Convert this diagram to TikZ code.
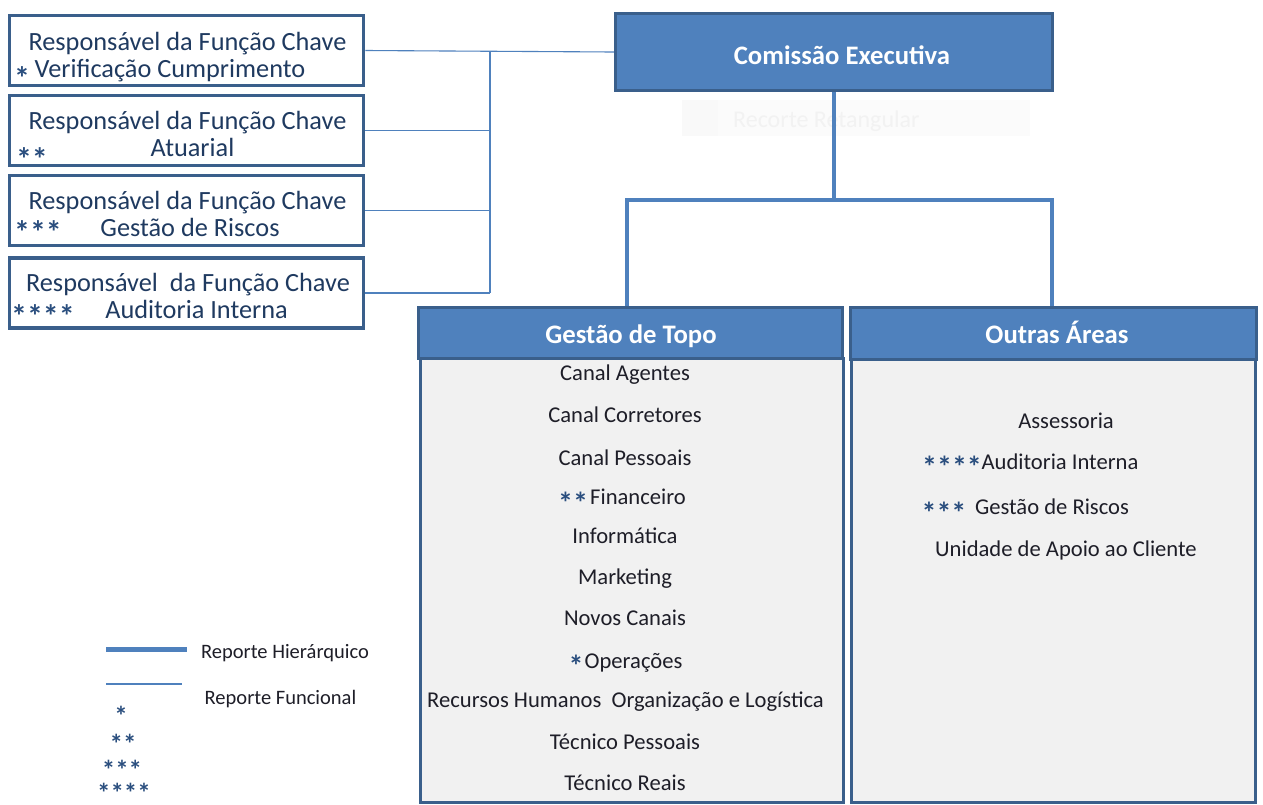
\documentclass[tikz,border=0pt]{standalone}
\usepackage{fontspec}
\setmainfont{Carlito}
\definecolor{mblue}{HTML}{4F81BD}
\definecolor{dblue}{HTML}{3A5F8B}
\definecolor{tnavy}{HTML}{1F3A60}
\definecolor{tdark}{HTML}{1E1E28}
\definecolor{sblue}{HTML}{2A4E7E}
\definecolor{bodyfill}{HTML}{F1F1F1}
\begin{document}
\begin{tikzpicture}[x=1pt,y=-1pt,
  keybox/.style={draw=dblue,line width=3.5pt,fill=white,minimum width=354pt,minimum height=70pt,inner sep=0pt},
  headbox/.style={draw=dblue,line width=3pt,fill=mblue,inner sep=0pt},
  bodybox/.style={draw=dblue,line width=3pt,fill=bodyfill,inner sep=0pt},
  hier/.style={draw=mblue,line width=4pt},
  func/.style={draw=mblue,line width=1.1pt},
  ktxt/.style={text=tnavy,font=\fontsize{26.3}{30}\selectfont,inner sep=0pt,text height=18pt,text depth=0pt},
  itxt/.style={text=tdark,font=\fontsize{22.6}{26}\selectfont,inner sep=0pt,text height=15.5pt,text depth=0pt},
  htxt/.style={text=white,font=\bfseries\fontsize{26.7}{30}\selectfont,inner sep=0pt,text height=19pt,text depth=0pt},
  ltxt/.style={text=tdark,font=\fontsize{20.5}{24}\selectfont,inner sep=0pt,text height=15.5pt,text depth=0pt},
  stars/.style={text=sblue,font=\bfseries\fontsize{32}{36}\selectfont,inner sep=0pt,text height=7pt,text depth=0pt,anchor=base,yshift=-16.5pt},
  lstars/.style={text=sblue,font=\bfseries\fontsize{27}{30}\selectfont,inner sep=0pt,text height=7pt,text depth=0pt,anchor=base,yshift=-14.5pt},
  istars/.style={text=sblue,font=\bfseries\fontsize{30}{34}\selectfont,inner sep=0pt,text height=7pt,text depth=0pt,anchor=base,yshift=-17pt}]
\useasboundingbox (0,0) rectangle (1263,804);
\fill[white] (0,0) rectangle (1263,804);

% faint screen artefact
\node[fill=black!1.5,minimum width=348pt,minimum height=36pt,inner sep=0pt] (rr) at (856,118) {};
\node[fill=black!2.5,minimum width=36pt,minimum height=36pt,inner sep=0pt] (rrs) at (700,118) {};
\node[text=black!5,font=\fontsize{24}{28}\selectfont,inner sep=0pt,anchor=west,text height=16pt,text depth=0pt] (rrt) at (733,119) {Recorte Retangular};

% left key-function boxes
\node[keybox] (b1) at (186.5,50.5) {};
\node[keybox] (b2) at (186.5,130.5) {};
\node[keybox] (b3) at (186.5,210.5) {};
\node[keybox] (b4) at (186.5,293) {};

\node[ktxt] (b1a) at (187.5,41) {Responsável da Função Chave};
\node[ktxt] (b1b) at (170,68) {Verificação Cumprimento};
\node[stars] (b1s) at (22,73) {*};
\node[ktxt] (b2a) at (187.5,120) {Responsável da Função Chave};
\node[ktxt] (b2b) at (192.5,147) {Atuarial};
\node[stars] (b2s) at (32,154) {**};
\node[ktxt] (b3a) at (187.5,200) {Responsável da Função Chave};
\node[ktxt] (b3b) at (190,227) {Gestão de Riscos};
\node[stars] (b3s) at (38,227) {***};
\node[ktxt] (b4a) at (188,282) {Responsável\ \ da Função Chave};
\node[ktxt] (b4b) at (196.5,309) {Auditoria Interna};
\node[stars] (b4s) at (43,311) {****};

% executive committee
\node[headbox,line width=3.5pt,minimum width=437pt,minimum height=77pt] (ce) at (834,52) {};
\node[htxt] (cet) at (842,55) {Comissão Executiva};

% functional reporting lines
\coordinate (jt) at (490,51);
\coordinate (jb) at (490,293);
\draw[func] (b1.east) -- (ce.west);
\draw[func] (jt) -- (jb);
\draw[func] (b2.east) -- (b2.east -| jt);
\draw[func] (b3.east) -- (b3.east -| jt);
\draw[func] (b4.east) -- (jb);

% areas
\node[bodybox,minimum width=423pt,minimum height=444pt] (gb) at (631.5,580) {};
\node[headbox,minimum width=424pt,minimum height=51pt] (gt) at (630,333) {};
\node[htxt] (gtt) at (631,334) {Gestão de Topo};
\node[bodybox,minimum width=404pt,minimum height=443pt] (ob) at (1053,580.5) {};
\node[headbox,minimum width=406pt,minimum height=52pt] (oa) at (1053,333) {};
\node[htxt] (oat) at (1057,334) {Outras Áreas};

% hierarchical lines
\coordinate (hj) at (834,200);
\draw[hier] (ce.south) -- (hj);
\draw[hier] ([xshift=-3pt]gt.north) |- (hj) -| ([xshift=-1pt]oa.north);

% Gestão de Topo items
\node[itxt] (g1) at (625,373) {Canal Agentes};
\node[itxt] (g2) at (625,415) {Canal Corretores};
\node[itxt] (g3) at (625,458) {Canal Pessoais};
\node[istars] (g4s) at (573,496) {**};
\node[itxt] (g4) at (638,497) {Financeiro};
\node[itxt] (g5) at (625,536) {Informática};
\node[itxt] (g6) at (625,577) {Marketing};
\node[itxt] (g7) at (625,618) {Novos Canais};
\node[istars] (g8s) at (576,659) {*};
\node[itxt] (g8) at (633.5,661) {Operações};
\node[itxt] (g9) at (625.5,700) {Recursos Humanos\ \ Organização e Logística};
\node[itxt] (g10) at (625,742) {Técnico Pessoais};
\node[itxt] (g11) at (625,783) {Técnico Reais};

% Outras Áreas items
\node[itxt] (o1) at (1066,421) {Assessoria};
\node[istars] (o2s) at (952,460) {****};
\node[itxt] (o2) at (1060,462) {Auditoria Interna};
\node[istars] (o3s) at (944,506) {***};
\node[itxt] (o3) at (1052,507) {Gestão de Riscos};
\node[itxt] (o4) at (1066,549) {Unidade de Apoio ao Cliente};

% legend
\coordinate (l1a) at (106,649);
\coordinate (l1b) at (187,649);
\coordinate (l2a) at (106,684);
\coordinate (l2b) at (182,684);
\draw[mblue,line width=5pt] (l1a) -- (l1b);
\draw[func] (l2a) -- (l2b);
\node[ltxt] (lh) at (285,651) {Reporte Hierárquico};
\node[ltxt] (lf) at (280.5,697) {Reporte Funcional};
\node[lstars] (ls1) at (121,711) {*};
\node[lstars] (ls2) at (123,739) {**};
\node[lstars] (ls3) at (122,765) {***};
\node[lstars] (ls4) at (124,788) {****};
\end{tikzpicture}
\end{document}
